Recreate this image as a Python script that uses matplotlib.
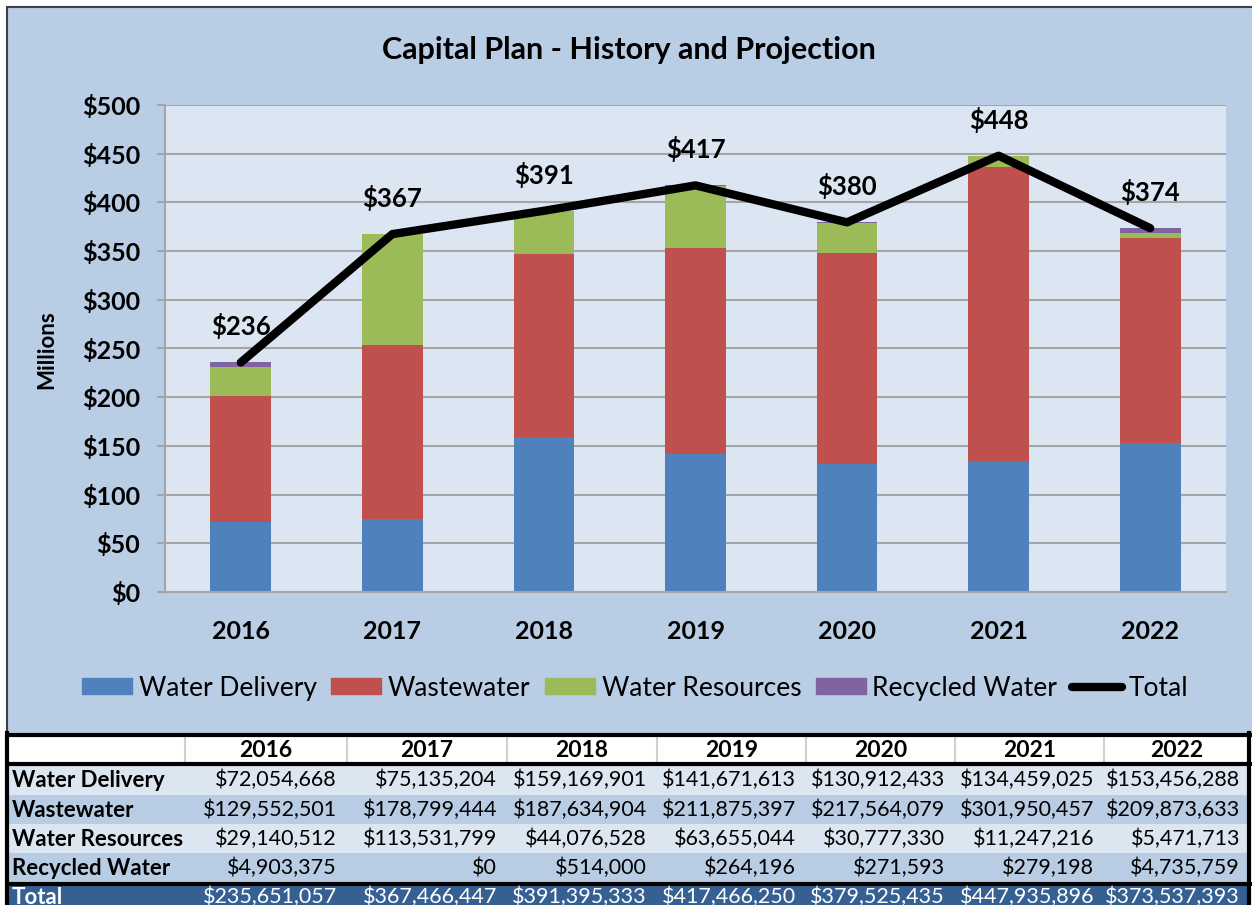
import matplotlib
matplotlib.use('Agg')
import numpy as np
import matplotlib.pyplot as plt
import matplotlib.patches as mpatches
from matplotlib.lines import Line2D

plt.rcParams['font.family'] = ['Lato', 'DejaVu Sans']

# ── Data (dollars) ────────────────────────────────────────────────
YEARS = ['2016', '2017', '2018', '2019', '2020', '2021', '2022']
WATER_DELIVERY = [72054668, 75135204, 159169901, 141671613, 130912433, 134459025, 153456288]
WASTEWATER = [129552501, 178799444, 187634904, 211875397, 217564079, 301950457, 209873633]
WATER_RESOURCES = [29140512, 113531799, 44076528, 63655044, 30777330, 11247216, 5471713]
RECYCLED_WATER = [4903375, 0, 514000, 264196, 271593, 279198, 4735759]
TOTAL = [235651057, 367466447, 391395333, 417466250, 379525435, 447935896, 373537393]

SERIES_NAMES = ['Water Delivery', 'Wastewater', 'Water Resources', 'Recycled Water']
SERIES_COLORS = ['#4f81bd', '#c0504d', '#9bbb59', '#8064a2']

CHART_BG = '#b9cde5'
PLOT_BG = '#dce6f2'
ROW_LIGHT = '#dce6f1'
ROW_DARK = '#b8cce4'
ROW_TOTAL = '#366092'
GRID = '#a5a5a5'

W, H = 1252, 905


def px_box(x0, y0, x1, y1):
    return [x0 / W, 1 - y1 / H, (x1 - x0) / W, (y1 - y0) / H]


fig = plt.figure(figsize=(W / 100, H / 100), dpi=100, facecolor='white')

# background layer in pixel coordinates (chart area + table)
bg = fig.add_axes([0, 0, 1, 1], zorder=0)
bg.set_xlim(0, W)
bg.set_ylim(H, 0)
bg.axis('off')
bg.add_patch(mpatches.Rectangle((7, 7), W, 735 - 7, fc=CHART_BG,
                                ec='#404040', lw=1.5))

# ── Chart ─────────────────────────────────────────────────────────
ax = fig.add_axes(px_box(165, 105, 1226, 592), zorder=1)
ax.set_facecolor(PLOT_BG)
x = np.arange(len(YEARS))
series = [WATER_DELIVERY, WASTEWATER, WATER_RESOURCES, RECYCLED_WATER]
bottom = np.zeros(len(YEARS))
for vals, name, col in zip(series, SERIES_NAMES, SERIES_COLORS):
    v = np.array(vals) / 1e6
    ax.bar(x, v, width=0.4, bottom=bottom, color=col, label=name, zorder=2)
    bottom += v

tot = np.array(TOTAL) / 1e6
ax.plot(x, tot, color='black', lw=6, solid_capstyle='round',
        solid_joinstyle='round', zorder=4)
for xi, t in zip(x, tot):
    ax.annotate(f'${round(t)}', (xi, t), xytext=(0, 26), textcoords='offset points',
                ha='center', va='center', fontsize=18.5, fontweight='bold', zorder=5)

ax.set_xlim(-0.5, len(YEARS) - 0.5)
ax.set_ylim(0, 500)
ax.set_yticks(range(0, 501, 50))
ax.set_yticklabels([f'${v}' for v in range(0, 501, 50)])
ax.set_xticks(x)
ax.set_xticklabels(YEARS)
ax.yaxis.grid(True, color=GRID, lw=1.5)
ax.set_axisbelow(True)
ax.tick_params(axis='y', length=6, width=1.5, color=GRID, pad=12,
               labelsize=18)
ax.tick_params(axis='x', length=0, pad=20, labelsize=18)
for lab in ax.get_xticklabels() + ax.get_yticklabels():
    lab.set_fontweight('bold')
for s in ('top', 'right'):
    ax.spines[s].set_visible(False)
for s in ('left', 'bottom'):
    ax.spines[s].set_color(GRID)
    ax.spines[s].set_linewidth(1.5)

fig.text(629 / W, 1 - 50 / H, 'Capital Plan - History and Projection',
         ha='center', va='center', fontsize=22, fontweight='bold')
fig.text(47 / W, 1 - 350 / H, 'Millions', rotation=90, ha='center',
         va='center', fontsize=16, fontweight='bold')

handles = [mpatches.Patch(color=c) for c in SERIES_COLORS]
handles.append(Line2D([], [], color='black', lw=6, solid_capstyle='round'))
fig.legend(handles, SERIES_NAMES + ['Total'], loc='center',
           bbox_to_anchor=(635 / W, 1 - 688 / H), ncol=5, frameon=False,
           fontsize=19, handlelength=1.9, handleheight=0.55,
           handletextpad=0.25, columnspacing=0.55)

# ── Table ─────────────────────────────────────────────────────────
col_edges = [7, 185, 347, 507, 657, 806, 955, 1104, 1250]
bg.add_patch(mpatches.Rectangle((7, 737), 1243, 26, fc='white', ec='none'))
for xe in col_edges[1:-1]:
    bg.plot([xe, xe], [737, 763], color='#d0d0d0', lw=1.5)
for i, yr in enumerate(YEARS):
    xc = (col_edges[i + 1] + col_edges[i + 2]) / 2
    bg.text(xc, 750, yr, ha='center', va='center', fontsize=16.5,
            fontweight='bold')

row_labels = SERIES_NAMES + ['Total']
row_vals = series + [TOTAL]
row_fills = [ROW_LIGHT, ROW_DARK, ROW_LIGHT, ROW_DARK, ROW_TOTAL]
row_tops = [765, 795, 824, 853, 886]
for lab, vals, fc, yt in zip(row_labels, row_vals, row_fills, row_tops):
    bg.add_patch(mpatches.Rectangle((7, yt), 1243, 30, fc=fc, ec='none'))
    tc = 'white' if fc == ROW_TOTAL else 'black'
    yc = yt + 15 if fc != ROW_TOTAL else yt + 11
    bg.text(12, yc, lab, ha='left', va='center', fontsize=16,
            fontweight='bold', color=tc)
    for i, v in enumerate(vals):
        bg.text(col_edges[i + 2] - 10, yc, f'${v:,}', ha='right',
                va='center', fontsize=15.5, color=tc)

for yl in (735, 764, 884):
    bg.plot([5, 1252], [yl, yl], color='black', lw=3, solid_capstyle='butt')
bg.plot([7, 7], [733, 905], color='black', lw=3)
bg.plot([1249, 1249], [733, 905], color='black', lw=3)

fig.savefig('out.png', dpi=100, facecolor='white')
